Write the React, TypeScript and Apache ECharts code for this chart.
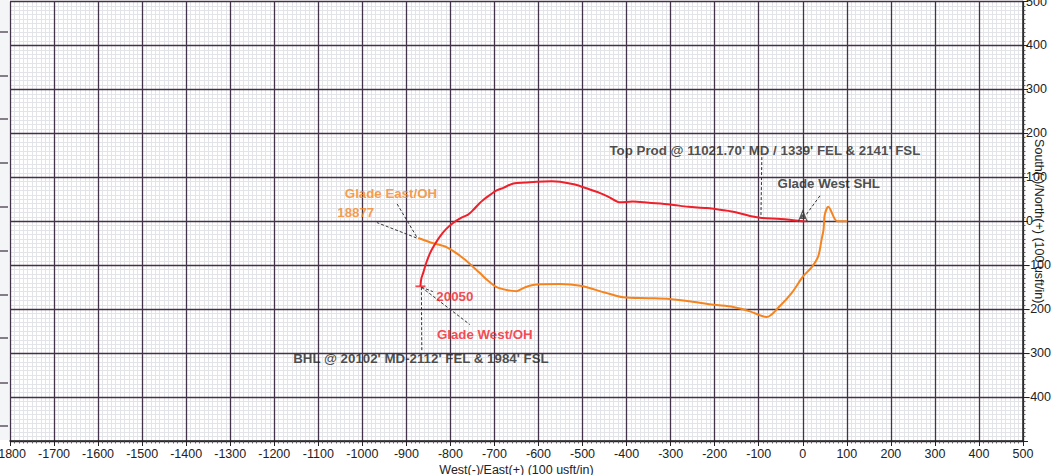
import React, { useEffect, useRef } from "react";
import * as echarts from "echarts";

// Glade West/OH (red), from SHL to BHL
const westX = [0, -50, -97, -120, -150, -180, -218, -260, -301, -350, -386, -415, -440, -460, -491, -520, -551, -570, -604, -630, -657, -680, -695, -710, -725, -735, -748, -760, -775, -794, -810, -824, -835, -846, -855, -862, -866, -868];
const westY = [0, 5, 8, 12, 20, 25, 30, 33, 38, 42, 45, 43, 55, 64, 75, 84, 90, 91, 90, 88, 86, 76, 70, 60, 49, 40, 26, 15, 8, -4, -18, -35, -52, -72, -95, -118, -130, -148];

// Glade East/OH (orange)
const eastX = [101, 78, 58, 50, 47, 43, 35, 20, 1, -25, -52, -82, -120, -158, -203, -250, -302, -350, -408, -450, -505, -551, -604, -630, -650, -670, -695, -715, -733, -771, -809, -839, -873];
const eastY = [0, 0, 33, 15, -20, -40, -80, -105, -125, -163, -193, -218, -205, -195, -190, -183, -177, -175, -173, -162, -147, -143, -144, -150, -159, -157, -150, -135, -118, -84, -59, -50, -38];

// Annotation texts and their anchor positions (data units)
const noteTexts = ["Glade East/OH", "18877", "20050", "Glade West/OH", "BHL @ 20102' MD-2112' FEL & 1984' FSL", "Top Prod @ 11021.70' MD / 1339' FEL & 2141' FSL", "Glade West SHL"];
const noteX = [-935, -1015, -790, -722, -867, -86, 59];
const noteY = [64, 21, -171, -258, -312, 162, 85];
const noteColors = ["#f5841f", "#f5841f", "#f0202a", "#f0202a", "#222222", "#222222", "#222222"];

// Leader lines (pairs of points, data units)
const leaders: number[][][] = [
  [[-877, -35], [-922, 41]],
  [[-877, -38], [-967, -3]],
  [[-866, -150], [-840, -160]],
  [[-866, -150], [-756, -235]],
  [[-866, -150], [-865, -294]],
  [[-93, 146], [-95, 10]],
  [[39, 58], [7, 14]],
];

const RED = "#f0202a";
const ORANGE = "#f5841f";
const FONT = "Liberation Sans, Arial, Helvetica, sans-serif";

export default function App() {
  const ref = useRef<HTMLDivElement>(null);
  useEffect(() => {
    if (!ref.current) return;
    const chart = echarts.init(ref.current, undefined, { renderer: "svg" });
    const westData = westX.map((x, i) => [x, westY[i]]);
    const eastData = eastX.map((x, i) => [x, eastY[i]]);
    const noteData = noteTexts.map((t, i) => ({
      name: t,
      value: [noteX[i], noteY[i]],
      label: { color: noteColors[i] },
    }));
    const leaderSeries = leaders.map((seg) => ({
      type: "line",
      data: seg,
      symbol: "none",
      silent: true,
      lineStyle: { color: "#333", width: 1, type: [3, 2] },
      z: 3,
    }));
    const leftStripLines = [32, 76, 119, 163, 207, 251, 295, 338, 383, 426].map((y) => ({
      type: "line",
      shape: { x1: 0, y1: y, x2: 8, y2: y },
      style: { stroke: "#3a2d3e", lineWidth: 1.2 },
    }));
    const fmt = (v: number) => String(v);
    const labelStyle = { color: "#222", fontSize: 12.5, fontFamily: FONT, formatter: fmt };
    // minor grid axes (drawn below)
    const minorAxis = {
      type: "value",
      interval: 100,
      z: 0,
      axisLine: { show: false },
      axisTick: { show: false },
      axisLabel: { show: false },
      splitLine: { show: false },
      minorTick: { show: false, splitNumber: 10 },
      minorSplitLine: { show: true, lineStyle: { color: "#e2e4e8", width: 1 } },
    };
    // major axes with labels (drawn above)
    const majorAxis = {
      type: "value",
      interval: 100,
      z: 1,
      nameMoveOverlap: false,
      axisLine: { show: true, onZero: false, lineStyle: { color: "#222", width: 1.5 } },
      axisTick: { show: true, length: 5, lineStyle: { color: "#222", width: 1 } },
      minorTick: { show: true, splitNumber: 10, length: 2.5, lineStyle: { color: "#444", width: 0.8 } },
      splitLine: { show: true, lineStyle: { color: "#42334a", width: 1.3 } },
      minorSplitLine: { show: false },
      nameTextStyle: { color: "#222", fontSize: 12.5, fontFamily: FONT },
    };
    chart.setOption({
      animation: false,
      backgroundColor: "#ffffff",
      grid: { left: 10, right: 31, top: 1.5, bottom: 34, containLabel: false, outerBoundsMode: "none" },
      graphic: [
        { type: "rect", shape: { x: 0, y: 0, width: 9, height: 440 }, style: { fill: "#f4f5f6" }, z: -1 },
        ...leftStripLines,
      ],
      xAxis: [
        { ...minorAxis, min: -1800, max: 500, position: "bottom" },
        {
          ...majorAxis,
          position: "bottom",
          min: -1800,
          max: 500,
          name: "West(-)/East(+) (100 usft/in)",
          nameLocation: "middle",
          nameGap: 22,
          axisLabel: { ...labelStyle, margin: 6 },
        },
      ],
      yAxis: [
        { ...minorAxis, min: -500, max: 500, position: "right" },
        {
          ...majorAxis,
          position: "right",
          min: -500,
          max: 500,
          name: "South(-)/North(+) (100 usft/in)",
          nameLocation: "middle",
          nameRotate: -90,
          nameGap: 16,
          nameTextStyle: { color: "#222", fontSize: 12.5, fontFamily: FONT, align: "center", verticalAlign: "middle" },
          axisLabel: { ...labelStyle, margin: 3, showMinLabel: false },
        },
      ],
      series: [
        {
          type: "line",
          name: "Glade East/OH",
          data: eastData,
          symbol: "none",
          smooth: 0.3,
          lineStyle: { color: ORANGE, width: 2 },
          z: 4,
        },
        {
          type: "line",
          name: "Glade West/OH",
          data: westData,
          symbol: "none",
          smooth: 0.3,
          lineStyle: { color: RED, width: 2 },
          z: 5,
        },
        ...leaderSeries,
        {
          type: "scatter",
          data: [[westX[westX.length - 1], westY[westY.length - 1]], [westX[0], westY[0]]],
          symbol: "rect",
          symbolSize: [10, 1.8],
          itemStyle: { color: RED },
          z: 6,
        },
        {
          type: "scatter",
          data: [[0, 0]],
          symbol: "path://M0,10 L4,0 L8,10 M1.5,7 L6.5,7 M2.5,4 L5.5,4 M1.5,7 L5.5,4 M6.5,7 L2.5,4",
          symbolSize: [9, 11],
          symbolOffset: [0, -5],
          itemStyle: { color: "rgba(0,0,0,0)", borderColor: "#333", borderWidth: 1.2 },
          z: 6,
        },
        {
          type: "scatter",
          data: noteData,
          symbolSize: 0,
          silent: true,
          label: {
            show: true,
            position: "inside",
            formatter: "{b}",
            fontSize: 13.3,
            fontWeight: "bold",
            fontFamily: FONT,
          },
          z: 7,
        },
      ],
    });
    return () => chart.dispose();
  }, []);
  return (
    <div
      ref={ref}
      style={{ position: "fixed", left: 0, top: 0, width: 1054, height: 475, background: "#fff" }}
    />
  );
}
